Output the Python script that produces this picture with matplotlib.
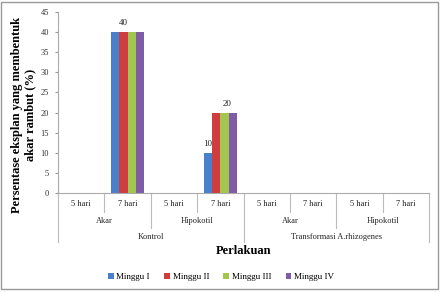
import matplotlib.pyplot as plt
import numpy as np
from matplotlib.lines import Line2D
from matplotlib.patches import Rectangle

plt.rcParams['font.family'] = ['Liberation Serif', 'DejaVu Serif']

# data
hari = ['5 hari', '7 hari', '5 hari', '7 hari', '5 hari', '7 hari', '5 hari', '7 hari']
organ = ['Akar', 'Hipokotil', 'Akar', 'Hipokotil']
perlakuan = ['Kontrol', 'Transformasi A.rhizogenes']
series = ['Minggu I', 'Minggu II', 'Minggu III', 'Minggu IV']
minggu1 = [0, 40, 0, 10, 0, 0, 0, 0]
minggu2 = [0, 40, 0, 20, 0, 0, 0, 0]
minggu3 = [0, 40, 0, 20, 0, 0, 0, 0]
minggu4 = [0, 40, 0, 20, 0, 0, 0, 0]
colors = ['#4A7FCC', '#CF3D3E', '#A2C650', '#7F5BA8']
# (category, series) that carry a data label
labelled = [(1, 1), (3, 0), (3, 2)]

W, H = 444, 292
fig = plt.figure(figsize=(W / 100, H / 100), dpi=100)
ax = fig.add_axes([58 / W, 1 - 193 / H, (429 - 58) / W, 181 / H])

vals = [minggu1, minggu2, minggu3, minggu4]
x = np.arange(len(hari))
bw = 0.178
offs = (np.arange(4) - 1.5) * bw
for i, (v, c, s) in enumerate(zip(vals, colors, series)):
    ax.bar(x + offs[i], v, bw, color=c, label=s, linewidth=0)

for ci, si in labelled:
    dx = 0.05 if (ci, si) == (3, 2) else 0
    ax.text(x[ci] + offs[si] + dx, vals[si][ci] + 1.2, str(vals[si][ci]),
            ha='center', va='bottom', fontsize=6.5, color='#222222')

ax.set_xlim(-0.5, 7.5)
ax.set_ylim(0, 45)
ax.set_yticks(range(0, 46, 5))
ax.set_xticks([])
ax.tick_params(axis='y', labelsize=6, length=2.5, color='#999999',
               labelcolor='#333333', pad=4)
for sp in ['top', 'right']:
    ax.spines[sp].set_visible(False)
for sp in ['left', 'bottom']:
    ax.spines[sp].set_color('#aaaaaa')
    ax.spines[sp].set_linewidth(0.8)

tr = ax.get_xaxis_transform()
ah = 181.0
for i, t in enumerate(hari):
    ax.text(i, -11 / ah, t, transform=tr, ha='center', va='center', fontsize=6, color='#222222')
for i, t in enumerate(organ):
    ax.text(2 * i + 0.5, -28 / ah, t, transform=tr, ha='center', va='center', fontsize=6, color='#222222')
for i, t in enumerate(perlakuan):
    ax.text(4 * i + 1.5, -44 / ah, t, transform=tr, ha='center', va='center', fontsize=6, color='#222222')

for xs, depth in [([0.5, 2.5, 4.5, 6.5], 19), ([1.5, 5.5], 35), ([-0.5, 3.5, 7.5], 49)]:
    for xv in xs:
        ax.add_line(Line2D([xv, xv], [0, -depth / ah], transform=tr, color='#bbbbbb',
                           linewidth=0.8, clip_on=False))

fig.text(244 / W, 1 - 251 / H, 'Perlakuan', ha='center', va='center',
         fontsize=9, fontweight='bold')
fig.text(24 / W, 1 - 115 / H, 'Persentase eksplan yang membentuk\nakar rambut (%)',
         ha='center', va='center', rotation=90, fontsize=9, fontweight='bold',
         linespacing=1.15)

fig.legend(loc='center', bbox_to_anchor=(221 / W, 1 - 277 / H), ncol=4, frameon=False,
           fontsize=6.5, handlelength=0.6, handleheight=0.6, handletextpad=0.3,
           columnspacing=1.6)

fig.patches.append(Rectangle((1 / W, 1 - 289 / H), 437 / W, 287 / H, transform=fig.transFigure,
                             fill=False, edgecolor='#999999', linewidth=1))

plt.savefig('out.png', dpi=100)
